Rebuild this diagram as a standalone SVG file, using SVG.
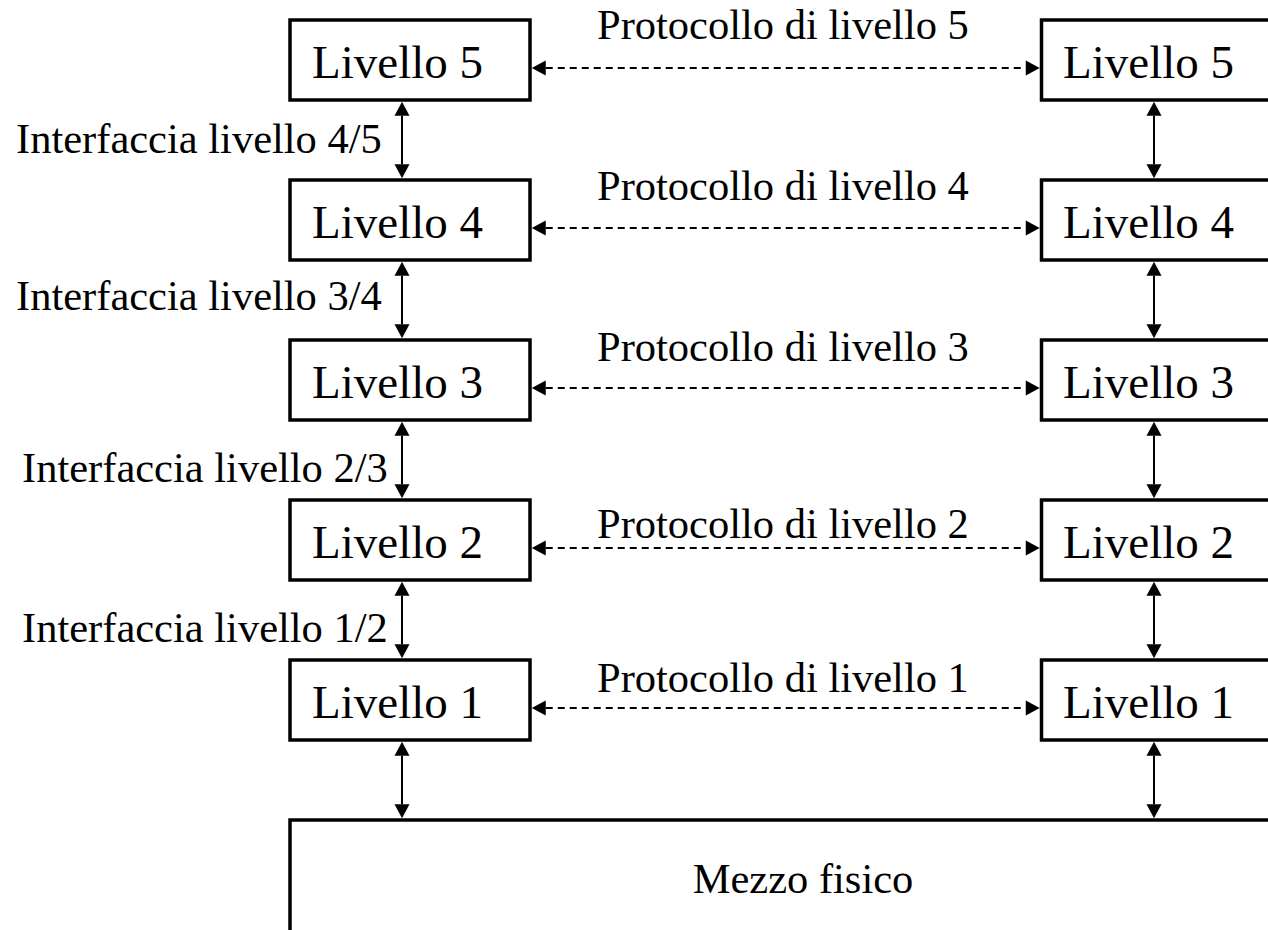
<svg xmlns="http://www.w3.org/2000/svg" width="1268" height="930" viewBox="0 0 1268 930">
  <style>
    .box { fill: #ffffff; stroke: #000000; stroke-width: 3.5; }
    .lbl { font-family: "Liberation Serif", "Times New Roman", serif; fill: #000000; }
    .layer { font-size: 47px; }
    .small { font-size: 42.5px; }
    .link { stroke: #000000; stroke-width: 2; fill: none; }
    .dash { stroke-dasharray: 7 5; }
  </style>
  <defs>
    <marker id="head" markerUnits="userSpaceOnUse" markerWidth="14" markerHeight="16"
            viewBox="0 0 14 16" refX="0" refY="8" orient="auto-start-reverse" overflow="visible">
      <path d="M0,0.5 L14,8 L0,15.5 z" fill="#000000" stroke="none"/>
    </marker>
  </defs>
  <rect width="1268" height="930" fill="#ffffff"/>

  <!-- left stack -->
  <g id="left-l5"><rect class="box" x="290" y="20" width="240" height="80"/><text class="lbl layer" x="312" y="78">Livello 5</text></g>
  <g id="left-l4"><rect class="box" x="290" y="180" width="240" height="80"/><text class="lbl layer" x="312" y="238">Livello 4</text></g>
  <g id="left-l3"><rect class="box" x="290" y="340" width="240" height="80"/><text class="lbl layer" x="312" y="398">Livello 3</text></g>
  <g id="left-l2"><rect class="box" x="290" y="500" width="240" height="80"/><text class="lbl layer" x="312" y="558">Livello 2</text></g>
  <g id="left-l1"><rect class="box" x="290" y="660" width="240" height="80"/><text class="lbl layer" x="312" y="718">Livello 1</text></g>

  <!-- right stack -->
  <g id="right-l5"><rect class="box" x="1041.5" y="20" width="300" height="80"/><text class="lbl layer" x="1063" y="78">Livello 5</text></g>
  <g id="right-l4"><rect class="box" x="1041.5" y="180" width="300" height="80"/><text class="lbl layer" x="1063" y="238">Livello 4</text></g>
  <g id="right-l3"><rect class="box" x="1041.5" y="340" width="300" height="80"/><text class="lbl layer" x="1063" y="398">Livello 3</text></g>
  <g id="right-l2"><rect class="box" x="1041.5" y="500" width="300" height="80"/><text class="lbl layer" x="1063" y="558">Livello 2</text></g>
  <g id="right-l1"><rect class="box" x="1041.5" y="660" width="300" height="80"/><text class="lbl layer" x="1063" y="718">Livello 1</text></g>

  <!-- physical medium -->
  <g id="medium"><rect class="box" x="290" y="820" width="1100" height="200"/><text class="lbl small" x="803" y="893" text-anchor="middle">Mezzo fisico</text></g>

  <!-- connectors -->
  <g id="connectors">
    <!-- peer protocols -->
    <line class="link dash" x1="545.75" y1="68" x2="1025.75" y2="68" marker-start="url(#head)" marker-end="url(#head)"/>
    <line class="link dash" x1="545.75" y1="228" x2="1025.75" y2="228" marker-start="url(#head)" marker-end="url(#head)"/>
    <line class="link dash" x1="545.75" y1="388" x2="1025.75" y2="388" marker-start="url(#head)" marker-end="url(#head)"/>
    <line class="link dash" x1="545.75" y1="548" x2="1025.75" y2="548" marker-start="url(#head)" marker-end="url(#head)"/>
    <line class="link dash" x1="545.75" y1="708" x2="1025.75" y2="708" marker-start="url(#head)" marker-end="url(#head)"/>
    <!-- left interfaces -->
    <line class="link" x1="402" y1="115.75" x2="402" y2="164.25" marker-start="url(#head)" marker-end="url(#head)"/>
    <line class="link" x1="402" y1="275.75" x2="402" y2="324.25" marker-start="url(#head)" marker-end="url(#head)"/>
    <line class="link" x1="402" y1="435.75" x2="402" y2="484.25" marker-start="url(#head)" marker-end="url(#head)"/>
    <line class="link" x1="402" y1="595.75" x2="402" y2="644.25" marker-start="url(#head)" marker-end="url(#head)"/>
    <line class="link" x1="402" y1="755.75" x2="402" y2="804.25" marker-start="url(#head)" marker-end="url(#head)"/>
    <!-- right interfaces -->
    <line class="link" x1="1154" y1="115.75" x2="1154" y2="164.25" marker-start="url(#head)" marker-end="url(#head)"/>
    <line class="link" x1="1154" y1="275.75" x2="1154" y2="324.25" marker-start="url(#head)" marker-end="url(#head)"/>
    <line class="link" x1="1154" y1="435.75" x2="1154" y2="484.25" marker-start="url(#head)" marker-end="url(#head)"/>
    <line class="link" x1="1154" y1="595.75" x2="1154" y2="644.25" marker-start="url(#head)" marker-end="url(#head)"/>
    <line class="link" x1="1154" y1="755.75" x2="1154" y2="804.25" marker-start="url(#head)" marker-end="url(#head)"/>
  </g>

  <!-- connector labels -->
  <g id="labels">
    <text class="lbl small" x="597" y="39">Protocollo di livello 5</text>
    <text class="lbl small" x="597" y="200">Protocollo di livello 4</text>
    <text class="lbl small" x="597" y="361">Protocollo di livello 3</text>
    <text class="lbl small" x="597" y="538">Protocollo di livello 2</text>
    <text class="lbl small" x="597" y="692">Protocollo di livello 1</text>
    <text class="lbl small" x="16" y="153">Interfaccia livello 4/5</text>
    <text class="lbl small" x="16" y="310">Interfaccia livello 3/4</text>
    <text class="lbl small" x="22" y="482">Interfaccia livello 2/3</text>
    <text class="lbl small" x="22" y="642">Interfaccia livello 1/2</text>
  </g>
</svg>
